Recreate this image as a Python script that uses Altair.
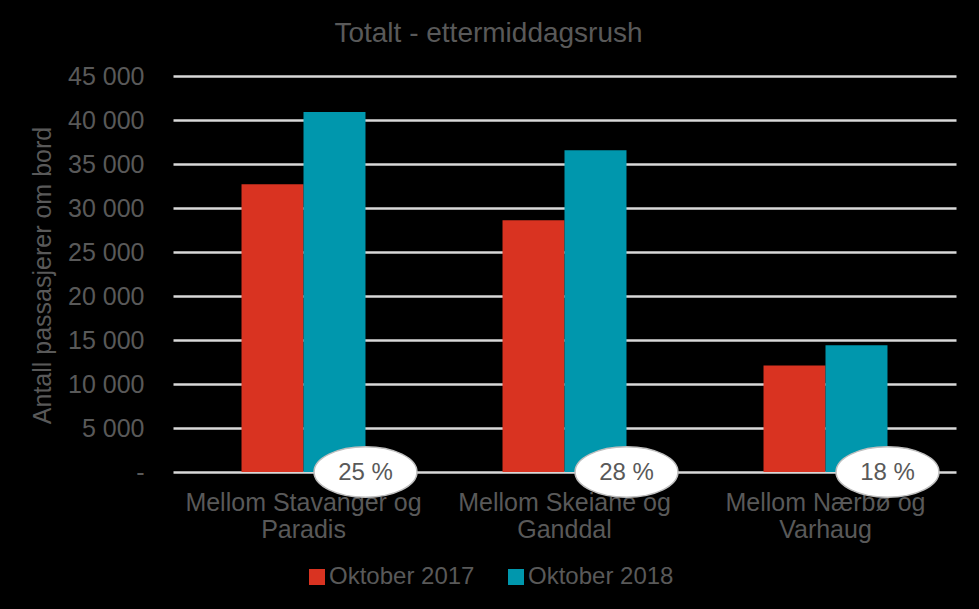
import altair as alt
import pandas as pd

categories = ["Mellom Stavanger og Paradis", "Mellom Skeiane og Ganddal", "Mellom Nærbø og Varhaug"]
series = ["Oktober 2017", "Oktober 2018"]
values_2017 = [32700, 28600, 12100]
values_2018 = [40900, 36550, 14400]
growth_labels = ["25 %", "28 %", "18 %"]
colors = ["#D93321", "#0097AD"]
y_ticks = [0, 5000, 10000, 15000, 20000, 25000, 30000, 35000, 40000, 45000]

rows = []
for i, c in enumerate(categories):
    rows.append({"category": c, "series": series[0], "value": values_2017[i], "pct": ""})
    rows.append({"category": c, "series": series[1], "value": values_2018[i], "pct": growth_labels[i]})
df = pd.DataFrame(rows)

FONT = "Liberation Sans"
TXT = "#595959"

x_enc = alt.X(
    "category:N",
    sort=categories,
    scale=alt.Scale(paddingInner=0.525, paddingOuter=0.2625),
    axis=alt.Axis(
        title=None,
        labelAngle=0,
        domain=False,
        ticks=False,
        labelPadding=18,
        labelFontSize=25,
        labelColor=TXT,
        labelFont=FONT,
        labelLineHeight=27,
        labelBaseline="top",
        labelLimit=500,
        labelExpr="[split(datum.label, ' og ')[0] + ' og', split(datum.label, ' og ')[1]]",
    ),
)
xoff = alt.XOffset("series:N", scale=alt.Scale(domain=series, paddingInner=0, paddingOuter=0))

bars = alt.Chart(df).mark_bar().encode(
    x=x_enc,
    xOffset=xoff,
    y=alt.Y(
        "value:Q",
        scale=alt.Scale(domain=[0, 45000], nice=False),
        axis=alt.Axis(
            values=y_ticks,
            title="Antall passasjerer om bord",
            titleFontSize=25,
            titleFontWeight="normal",
            titleColor=TXT,
            titleFont=FONT,
            titleX=-131,
            titleY=199,
            titleAngle=-90,
            titleAlign="center",
            titleBaseline="middle",
            domain=False,
            ticks=False,
            labelPadding=29,
            labelFontSize=25,
            labelColor=TXT,
            labelFont=FONT,
            labelExpr="datum.value == 0 ? '-' : replace(format(datum.value, ','), ',', ' ')",
            grid=True,
            gridColor="#D9D9D9",
            gridWidth=2.5,
        ),
    ),
    color=alt.Color(
        "series:N",
        scale=alt.Scale(domain=series, range=colors),
        legend=alt.Legend(
            title=None,
            orient="none",
            direction="horizontal",
            legendX=132,
            legendY=489,
            symbolType="square",
            symbolSize=256,
            symbolStrokeWidth=0,
            symbolOpacity=1,
            labelFontSize=24,
            labelColor=TXT,
            labelFont=FONT,
            labelOffset=0,
            columnPadding=29,
        ),
    ),
)

ellipse_path = "M-1,0A1,0.49 0 1,1 1,0A1,0.49 0 1,1 -1,0Z"
bubbles = alt.Chart(df).transform_filter(alt.datum.pct != "").mark_point(
    shape=ellipse_path, size=10600, filled=True, fill="white", stroke="#BFBFBF",
    strokeWidth=1.5, opacity=1, xOffset=62
).encode(
    x=alt.X("category:N", sort=categories),
    y=alt.Y("zero:Q"),
).transform_calculate(zero="0")

bubble_text = alt.Chart(df).transform_filter(alt.datum.pct != "").mark_text(
    fontSize=24, color=TXT, font=FONT, baseline="middle", align="center", dy=1, dx=62
).encode(
    x=alt.X("category:N", sort=categories),
    y=alt.Y("zero:Q"),
    text="pct:N",
).transform_calculate(zero="0")

chart = alt.layer(bars, bubbles, bubble_text).properties(
    width=783,
    height=396,
    background="black",
    padding={"left": 173, "top": 76, "right": 23, "bottom": 137},
    autosize=alt.AutoSizeParams(type="none"),
    title=alt.TitleParams(
        "Totalt - ettermiddagsrush",
        anchor="middle",
        dx=-76,
        dy=40,
        offset=34,
        baseline="alphabetic",
        fontSize=28,
        fontWeight="normal",
        color=TXT,
        font=FONT,
    ),
).configure_view(stroke=None)

chart.save("out.html", embed_options={"renderer": "svg", "actions": False})
